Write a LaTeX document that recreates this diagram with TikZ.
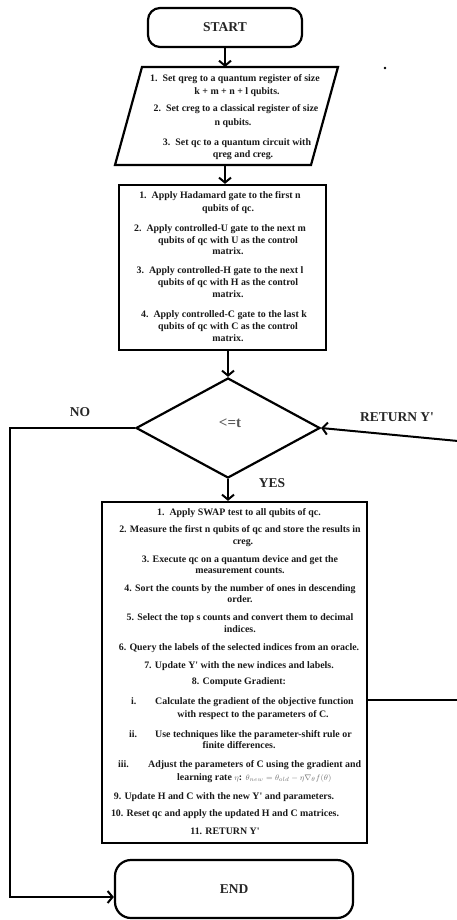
\documentclass[tikz,border=0pt]{standalone}
\usepackage{fontspec}
\setmainfont{Liberation Serif}
\usetikzlibrary{shapes.geometric,arrows.meta}
\begin{document}
\begin{tikzpicture}[x=1pt,y=-1pt,
  every node/.style={inner sep=0pt},
  shapeline/.style={draw=black,line width=2.2pt},
  conn/.style={line width=2pt},
  arr/.style={conn,-{Straight Barb[length=5pt,width=12pt,line width=2pt]}},
  txt/.style={font=\fontsize{9.9}{11}\selectfont\bfseries,text=black!90,text height=7pt,text depth=2.4pt},
  lab/.style={font=\fontsize{13.5}{15}\selectfont\bfseries,text=black!85}]
\useasboundingbox (0,0) rectangle (456,920);

% START
\node[shapeline,rounded corners=12pt,minimum width=154pt,minimum height=39pt,lab] (start) at (225,27.5) {START};

% parallelogram
\coordinate (pTL) at (142,67);
\coordinate (pTR) at (338,67);
\coordinate (pBR) at (311,165);
\coordinate (pBL) at (115,165);
\draw[shapeline] (pTL) -- (pTR) -- (pBR) -- (pBL) -- cycle;
\coordinate (parTop) at (225,67);
\coordinate (parBot) at (225,165);
\node[txt] (p1a) at (235,79) {1.\ \ Set qreg to a quantum register of size};
\node[txt] (p1b) at (237,92) {k + m + n + l qubits.};
\node[txt] (p2a) at (236,109) {2.\ \ Set creg to a classical register of size};
\node[txt] (p2b) at (233,123) {n qubits.};
\node[txt] (p3a) at (237,143) {3.\ \ Set qc to a quantum circuit with};
\node[txt] (p3b) at (243,155) {qreg and creg.};

\fill[black] (385,68) circle (1.3pt);

% box 2
\node[shapeline,minimum width=207pt,minimum height=165pt] (box2) at (222.5,267.5) {};
\node[txt] (b1a) at (220,196) {1.\ \ Apply Hadamard gate to the first n};
\node[txt] (b1b) at (228,209) {qubits of qc.};
\node[txt] (b2a) at (220,229) {2.\ \ Apply controlled-U gate to the next m};
\node[txt] (b2b) at (228,241) {qubits of qc with U as the control};
\node[txt] (b2c) at (228,252) {matrix.};
\node[txt] (b3a) at (220,271) {3.\ \ Apply controlled-H gate to the next l};
\node[txt] (b3b) at (228,283) {qubits of qc with H as the control};
\node[txt] (b3c) at (228,295) {matrix.};
\node[txt] (b4a) at (224,315) {4.\ \ Apply controlled-C gate to the last k};
\node[txt] (b4b) at (228,327) {qubits of qc with C as the control};
\node[txt] (b4c) at (228,339) {matrix.};

% decision
\node[shapeline,diamond,minimum width=184pt,minimum height=100pt] (dec) at (228,428) {};
\node[font=\fontsize{15}{17}\selectfont\bfseries,text=black!65] (dect) at (230,423) {<=t};

% box 3
\node[shapeline,minimum width=265pt,minimum height=341pt] (box3) at (234.5,672.5) {};
\node[txt] (c1) at (239,513) {1.\ \ Apply SWAP test to all qubits of qc.};
\node[txt] (c2a) at (240,530) {2. Measure the first n qubits of qc and store the results in};
\node[txt] (c2b) at (243,542) {creg.};
\node[txt] (c3a) at (240,560) {3. Execute qc on a quantum device and get the};
\node[txt] (c3b) at (240,571) {measurement counts.};
\node[txt] (c4a) at (240,589) {4. Sort the counts by the number of ones in descending};
\node[txt] (c4b) at (240,600) {order.};
\node[txt] (c5a) at (240,618) {5. Select the top s counts and convert them to decimal};
\node[txt] (c5b) at (240,630) {indices.};
\node[txt] (c6) at (239,648) {6. Query the labels of the selected indices from an oracle.};
\node[txt] (c7) at (239,666) {7. Update Y\textquotesingle\ with the new indices and labels.};
\node[txt] (c8) at (239,682) {8. Compute Gradient:};
\node[txt,anchor=west] (s1n) at (131,702) {i.};
\node[txt,anchor=west] (s1a) at (155,702) {Calculate the gradient of the objective function};
\node[txt] (s1b) at (253,715) {with respect to the parameters of C.};
\node[txt,anchor=west] (s2n) at (129,735) {ii.};
\node[txt,anchor=west] (s2a) at (155,735) {Use techniques like the parameter-shift rule or};
\node[txt] (s2b) at (239,746) {finite differences.};
\node[txt,anchor=west] (s3n) at (118,765) {iii.};
\node[txt,anchor=west] (s3a) at (148,765) {Adjust the parameters of C using the gradient and};
\node[txt,anchor=west] (s3b) at (177,778) {learning rate {\fontsize{8.5}{9}\selectfont\color{black!55}$\eta$}: {\fontsize{8.5}{9}\selectfont\color{black!55}$\theta_{new}=\theta_{old}-\eta\nabla_{\theta}f(\theta)$}};
\node[txt] (c9) at (224,797) {9. Update H and C with the new Y\textquotesingle\ and parameters.};
\node[txt] (c10) at (225,814) {10. Reset qc and apply the updated H and C matrices.};
\node[txt] (c11) at (225,832) {11. RETURN Y\textquotesingle};

% END
\node[shapeline,rounded corners=16pt,minimum width=238pt,minimum height=58pt,lab] (end) at (234,889) {END};

% connectors
\draw[arr] (start.south) -- (parTop);
\draw[arr] (parBot) -- (parBot |- box2.north);
\draw[arr] (box2.south -| dec.north) -- (dec.north);
\draw[arr] (dec.south) -- (dec.south |- box3.north);
\coordinate (noA) at (10,428);
\coordinate (noB) at (10,897);
\draw[arr] (dec.west) -- (noA) -- (noB) -- (noB -| end.west);
\coordinate (rA) at (458,700);
\draw[conn] (box3.east |- rA) -- (rA);
\coordinate (rB) at (458,441);
\draw[arr] (rB) -- (dec.east);

% labels
\node[lab] (lno) at (80,412) {NO};
\node[lab] (lret) at (397,417) {RETURN Y\textquotesingle};
\node[lab] (lyes) at (272,483) {YES};
\end{tikzpicture}
\end{document}
